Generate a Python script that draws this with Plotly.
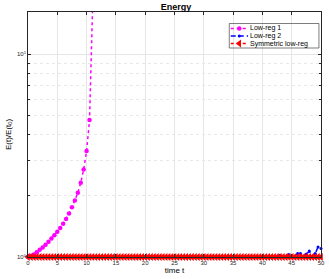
import plotly.graph_objects as go

# ---- data ----
t1 = [i * 0.5 for i in range(23)]  # 0 .. 11
e1 = [1.00, 1.015, 1.03, 1.055, 1.085, 1.115, 1.15, 1.19, 1.235, 1.28, 1.33,
      1.39, 1.46, 1.54, 1.64, 1.76, 1.90, 2.07, 2.32, 2.70, 3.33, 4.73, 16.2]

t2 = [i * 0.5 for i in range(101)]  # 0 .. 50
e2_tail = [1.005, 1.02, 1.0, 1.005, 1.03, 1.01, 0.995, 1.04, 1.04, 0.99,
           1.035, 1.07, 1.0, 1.04, 1.12, 1.10]
e2 = [1.0] * (101 - len(e2_tail)) + e2_tail

t3 = [i * 0.5 for i in range(101)]
e3 = [1.0] * 101

names = ["Low-reg 1", "Low-reg 2", "Symmetric low-reg"]
colors = ["#ff00ff", "#0000ff", "#ff0000"]
dashes = ["dot", "5px,3px", "dot"]
symbols = ["circle", "circle", "triangle-left"]
msizes = [4.5, 3, 7]

xticks = [0, 5, 10, 15, 20, 25, 30, 35, 40, 45, 50]
yticks = [1, 10]
yticklabels = ["10<sup>0</sup>", "10<sup>1</sup>"]
yminor = [2, 3, 4, 5, 6, 7, 8, 9, 20]

fig = go.Figure()
for tx, ey, nm, c, d, s, ms in zip([t1, t2, t3], [e1, e2, e3], names, colors,
                                   dashes, symbols, msizes):
    fig.add_trace(go.Scatter(
        x=tx, y=ey, name=nm, mode="lines+markers",
        line=dict(color=c, dash=d, width=1.5),
        marker=dict(symbol=s, size=ms, color=c),
        cliponaxis=False, showlegend=False))

# ---- compact legend drawn on an overlay axis (0..1 in plot-area fractions) ----
leg_rows = [0.9327, 0.902, 0.8714]
leg_x0, leg_x1, leg_xm, leg_xt = 0.692, 0.751, 0.721, 0.753
annotations = []
for yy, nm, c, d, s, ms in zip(leg_rows, names, colors, dashes, symbols, msizes):
    fig.add_trace(go.Scatter(
        x=[leg_x0, leg_x1], y=[yy, yy], mode="lines",
        line=dict(color=c, dash=d, width=1.5), xaxis="x2", yaxis="y2",
        showlegend=False, hoverinfo="skip", cliponaxis=False))
    fig.add_trace(go.Scatter(
        x=[leg_xm], y=[yy], mode="markers",
        marker=dict(symbol=s, size=ms, color=c), xaxis="x2", yaxis="y2",
        showlegend=False, hoverinfo="skip", cliponaxis=False))
    annotations.append(dict(
        x=leg_xt, y=yy, xref="paper", yref="paper", text=nm, showarrow=False,
        xanchor="left", yanchor="middle", borderpad=0,
        font=dict(size=7, color="#000000")))

shapes = [
    dict(type="rect", xref="paper", yref="paper", x0=0.687, x1=0.993,
         y0=0.853, y1=0.953, line=dict(width=0), fillcolor="white",
         layer="between"),
    dict(type="rect", xref="paper", yref="paper", x0=0.687, x1=0.993,
         y0=0.853, y1=0.953, line=dict(color="#262626", width=0.6),
         fillcolor="rgba(0,0,0,0)", layer="above"),
]

axis_common = dict(
    showline=True, linecolor="#262626", linewidth=0.6, mirror="ticks",
    ticks="inside", ticklen=3, tickcolor="#262626",
    showgrid=True, gridcolor="#e6e6e6", gridwidth=0.6,
    zeroline=False, tickfont=dict(size=6, color="#262626"),
)

fig.update_layout(
    width=329, height=279,
    margin=dict(l=27.5, r=4, t=12, b=22),
    paper_bgcolor="white", plot_bgcolor="white",
    font=dict(family="Liberation Sans, Arial, sans-serif", color="#000000"),
    title=dict(text="<b>Energy</b>", x=0.535, xanchor="center", y=0.975,
               yanchor="middle", font=dict(size=9, color="#000000")),
    xaxis=dict(range=[0, 50], tickvals=xticks,
               title=dict(text="time t", font=dict(size=8), standoff=2),
               **axis_common),
    yaxis=dict(type="log", range=[0, 1.207], tickvals=yticks,
               ticktext=yticklabels,
               title=dict(text="E(t)/E(t<sub>0</sub>)", font=dict(size=8),
                          standoff=4),
               minor=dict(tickvals=yminor, showgrid=True, griddash="dot",
                          gridcolor="#e8e8e8", gridwidth=0.6,
                          ticks="inside", ticklen=2, tickcolor="#262626"),
               **axis_common),
    xaxis2=dict(overlaying="x", range=[0, 1], visible=False, fixedrange=True),
    yaxis2=dict(overlaying="y", range=[0, 1], visible=False, fixedrange=True),
    shapes=shapes,
    annotations=annotations,
    showlegend=False,
)

fig.write_html("out.html", config={"displayModeBar": False},
               post_script="document.body.style.margin='0px';")
